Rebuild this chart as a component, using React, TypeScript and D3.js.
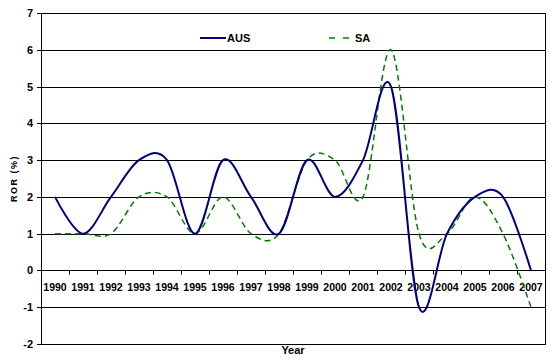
import { useEffect, useRef } from 'react';
import * as d3 from 'd3';

const years = [
  '1990', '1991', '1992', '1993', '1994', '1995', '1996', '1997', '1998',
  '1999', '2000', '2001', '2002', '2003', '2004', '2005', '2006', '2007',
];
const aus = [2, 1, 2, 3, 3, 1, 3, 2, 1, 3, 2, 3, 5, -1, 1, 2, 2, 0];
const sa = [1, 1, 1, 2, 2, 1, 2, 1, 1, 3, 3, 2, 6, 1, 1, 2, 1, -1];
const yTicks = [-2, -1, 0, 1, 2, 3, 4, 5, 6, 7];

const W = 553;
const H = 364;
const FONT = '"Liberation Sans", Arial, sans-serif';

const RorChart = () => {
  const ref = useRef<SVGSVGElement>(null);

  useEffect(() => {
    if (!ref.current) return;
    const svg = d3.select(ref.current);
    svg.selectAll('*').remove();

    const left = 41;
    const right = 545;
    const top = 13;
    const bottom = 344;

    const x = d3.scaleBand<string>().domain(years).range([left, right]).padding(0);
    const cx = (d: string) => (x(d) ?? 0) + x.bandwidth() / 2;
    const y = d3.scaleLinear().domain([-2, 7]).range([bottom, top]);

    svg.append('rect').attr('width', W).attr('height', H).attr('fill', '#fff');

    // gridlines
    svg
      .append('g')
      .selectAll('line')
      .data(yTicks)
      .join('line')
      .attr('x1', left)
      .attr('x2', right)
      .attr('y1', (d) => Math.round(y(d)) + 0.5)
      .attr('y2', (d) => Math.round(y(d)) + 0.5)
      .attr('stroke', '#000')
      .attr('stroke-width', 1);

    // plot frame
    svg
      .append('rect')
      .attr('x', left + 0.5)
      .attr('y', Math.round(top) + 0.5)
      .attr('width', right - left)
      .attr('height', Math.round(bottom) - Math.round(top))
      .attr('fill', 'none')
      .attr('stroke', '#000');

    // y axis ticks + labels
    const yg = svg.append('g');
    yg.selectAll('line')
      .data(yTicks)
      .join('line')
      .attr('x1', left - 4)
      .attr('x2', left)
      .attr('y1', (d) => Math.round(y(d)) + 0.5)
      .attr('y2', (d) => Math.round(y(d)) + 0.5)
      .attr('stroke', '#000');
    yg.selectAll('text')
      .data(yTicks)
      .join('text')
      .attr('x', 33)
      .attr('y', (d) => y(d) + 4)
      .attr('text-anchor', 'end')
      .attr('font-family', FONT)
      .attr('font-weight', 'bold')
      .attr('font-size', 11)
      .text((d) => d);

    // x axis ticks at category boundaries on the zero line
    const y0 = Math.round(y(0)) + 0.5;
    const bounds = years.map((d) => x(d) ?? 0).concat([right]);
    svg
      .append('g')
      .selectAll('line')
      .data(bounds)
      .join('line')
      .attr('x1', (d) => Math.round(d) + 0.5)
      .attr('x2', (d) => Math.round(d) + 0.5)
      .attr('y1', y0)
      .attr('y2', y0 + 4)
      .attr('stroke', '#000');

    svg
      .append('g')
      .selectAll('text')
      .data(years)
      .join('text')
      .attr('x', (d) => cx(d))
      .attr('y', y0 + 20)
      .attr('text-anchor', 'middle')
      .attr('font-family', FONT)
      .attr('font-weight', 'bold')
      .attr('font-size', 10.5)
      .text((d) => d);

    // series
    const line = d3
      .line<number>()
      .x((_, i) => cx(years[i]))
      .y((d) => y(d))
      .curve(d3.curveCardinal.tension(0));

    svg
      .append('path')
      .datum(sa)
      .attr('fill', 'none')
      .attr('stroke', '#008000')
      .attr('stroke-width', 1.5)
      .attr('stroke-dasharray', '6,4')
      .attr('d', line);

    svg
      .append('path')
      .datum(aus)
      .attr('fill', 'none')
      .attr('stroke', '#000080')
      .attr('stroke-width', 2)
      .attr('d', line);

    // legend
    const lg = svg.append('g').attr('font-family', FONT).attr('font-weight', 'bold').attr('font-size', 11);
    lg.append('line').attr('x1', 200).attr('x2', 226).attr('y1', 38).attr('y2', 38).attr('stroke', '#000080').attr('stroke-width', 2);
    lg.append('text').attr('x', 227).attr('y', 42).text('AUS');
    lg.append('line')
      .attr('x1', 329)
      .attr('x2', 354)
      .attr('y1', 38)
      .attr('y2', 38)
      .attr('stroke', '#008000')
      .attr('stroke-width', 1.5)
      .attr('stroke-dasharray', '6,8');
    lg.append('text').attr('x', 355).attr('y', 42).text('SA');

    // axis titles
    svg
      .append('text')
      .attr('transform', `translate(17,${(top + bottom) / 2}) rotate(-90)`)
      .attr('text-anchor', 'middle')
      .attr('font-family', FONT)
      .attr('font-weight', 'bold')
      .attr('font-size', 9)
      .attr('letter-spacing', 1.5)
      .text('ROR (%)');

    svg
      .append('text')
      .attr('x', (left + right) / 2)
      .attr('y', 354)
      .attr('text-anchor', 'middle')
      .attr('font-family', FONT)
      .attr('font-weight', 'bold')
      .attr('font-size', 11)
      .text('Year');
  }, []);

  return <svg ref={ref} width={W} height={H} role="img" aria-label="ROR by year, AUS vs SA" />;
};

export default function App() {
  return (
    <div style={{ position: 'absolute', left: 0, top: 0 }}>
      <RorChart />
    </div>
  );
}
